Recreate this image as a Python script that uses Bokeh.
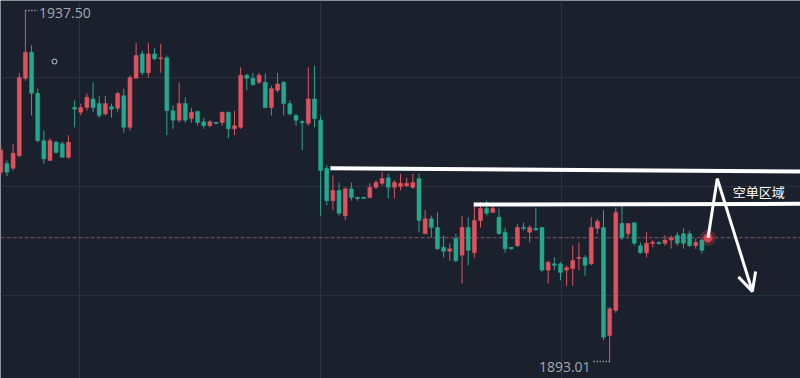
from bokeh.plotting import figure
from bokeh.models import FixedTicker, Arrow, OpenHead, ColumnDataSource
from bokeh.core.properties import value
from bokeh.embed import file_html
from bokeh.resources import INLINE

# ---- OHLC data ----
opens = [1917.0, 1918.1, 1917.5, 1919.1, 1928.9, 1932.2, 1927.0, 1921.0, 1918.5, 1920.8,
         1920.6, 1918.9, 1925.2, 1924.6, 1925.2, 1926.3, 1925.7, 1924.4, 1925.3, 1925.1,
         1926.7, 1922.7, 1928.9, 1932.0, 1929.6, 1932.0, 1931.4, 1931.5, 1924.8, 1923.6,
         1925.7, 1923.8, 1924.7, 1923.4, 1922.9, 1923.3, 1923.3, 1924.6, 1922.5, 1922.7,
         1929.3, 1928.9, 1928.4, 1928.4, 1925.2, 1927.4, 1928.4, 1925.7, 1924.2, 1923.4,
         1923.2, 1926.3, 1923.6, 1917.5, 1913.4, 1914.7, 1911.5, 1914.9, 1913.8, 1913.8,
         1913.8, 1915.1, 1915.6, 1916.3, 1915.1, 1915.2, 1915.3, 1915.1, 1916.2, 1909.2,
         1911.1, 1910.0, 1907.5, 1907.0, 1908.6, 1906.5, 1910.0, 1906.8, 1910.9, 1912.4,
         1911.9, 1911.3, 1909.4, 1907.5, 1907.7, 1910.0, 1909.4, 1909.9, 1910.0, 1904.6,
         1905.4, 1905.4, 1904.6, 1904.8, 1906.1, 1906.2, 1905.4, 1909.9, 1910.0, 1896.3,
         1899.5, 1910.5, 1909.2, 1910.6, 1907.7, 1906.8, 1908.0, 1908.1, 1908.0, 1908.4,
         1909.0, 1909.2, 1909.2, 1907.7, 1908.4, 1908.2]
highs = [1920.4, 1918.5, 1920.6, 1929.6, 1937.5, 1933.1, 1927.6, 1922.3, 1921.3, 1921.0,
         1920.9, 1921.7, 1926.1, 1925.7, 1927.0, 1928.4, 1926.7, 1926.7, 1925.7, 1927.2,
         1927.6, 1929.3, 1933.4, 1932.4, 1933.4, 1932.7, 1933.3, 1931.8, 1925.5, 1928.4,
         1926.5, 1925.2, 1924.8, 1923.9, 1923.6, 1923.4, 1924.7, 1924.7, 1924.8, 1930.3,
         1929.5, 1929.6, 1929.6, 1929.5, 1928.0, 1929.6, 1928.6, 1926.1, 1924.4, 1923.6,
         1930.3, 1930.5, 1924.2, 1917.9, 1916.6, 1915.7, 1915.1, 1915.7, 1913.9, 1913.9,
         1915.6, 1916.0, 1917.0, 1916.8, 1916.0, 1916.8, 1916.3, 1916.8, 1916.8, 1912.2,
         1911.5, 1911.9, 1909.0, 1908.0, 1909.2, 1911.5, 1911.3, 1913.2, 1913.2, 1913.4,
         1912.7, 1912.4, 1910.0, 1907.5, 1910.5, 1910.6, 1910.3, 1912.5, 1910.0, 1905.8,
         1906.2, 1905.6, 1905.2, 1907.7, 1908.1, 1906.5, 1911.3, 1911.1, 1912.2, 1899.9,
         1912.5, 1912.8, 1910.5, 1910.6, 1908.1, 1909.4, 1908.4, 1908.2, 1909.0, 1909.0,
         1909.4, 1909.9, 1909.6, 1908.6, 1908.6, 1909.1]
lows = [1916.6, 1916.5, 1917.2, 1918.9, 1928.6, 1924.2, 1920.8, 1918.1, 1918.5, 1919.4,
        1918.9, 1918.7, 1922.7, 1924.2, 1924.8, 1924.6, 1923.9, 1924.2, 1923.9, 1924.6,
        1922.0, 1922.3, 1928.9, 1929.3, 1929.0, 1931.2, 1929.6, 1921.7, 1922.5, 1923.3,
        1923.3, 1923.3, 1922.9, 1922.5, 1922.7, 1923.1, 1922.9, 1921.3, 1921.7, 1922.5,
        1927.4, 1928.0, 1928.2, 1925.1, 1924.2, 1927.1, 1924.2, 1924.2, 1922.9, 1919.8,
        1922.9, 1922.7, 1911.5, 1912.8, 1912.2, 1911.5, 1910.9, 1913.4, 1913.4, 1913.7,
        1913.7, 1914.9, 1915.3, 1913.7, 1913.7, 1914.7, 1915.1, 1914.9, 1909.4, 1909.2,
        1908.7, 1907.1, 1906.2, 1905.8, 1905.6, 1902.9, 1905.2, 1906.1, 1910.0, 1911.5,
        1911.9, 1909.1, 1906.8, 1907.2, 1907.5, 1909.6, 1908.1, 1909.6, 1904.3, 1902.9,
        1904.6, 1903.3, 1902.6, 1902.6, 1904.6, 1903.9, 1905.2, 1909.2, 1895.7, 1893.01,
        1899.2, 1908.4, 1908.6, 1907.7, 1906.7, 1906.2, 1907.5, 1907.8, 1907.7, 1907.3,
        1907.7, 1907.3, 1907.5, 1907.3, 1906.7, 1908.1]
closes = [1919.8, 1917.0, 1919.4, 1929.0, 1932.2, 1927.0, 1921.0, 1918.7, 1921.0, 1919.5,
          1918.9, 1920.8, 1925.0, 1925.2, 1926.5, 1925.2, 1924.2, 1925.7, 1925.0, 1927.0,
          1922.7, 1929.0, 1931.8, 1929.6, 1932.0, 1931.4, 1931.5, 1924.8, 1923.6, 1925.7,
          1923.6, 1924.6, 1923.3, 1922.9, 1923.4, 1923.2, 1924.6, 1922.5, 1922.9, 1929.3,
          1928.9, 1928.1, 1929.3, 1925.2, 1927.6, 1928.2, 1925.7, 1924.4, 1923.6, 1923.3,
          1926.3, 1923.8, 1917.2, 1913.4, 1914.7, 1911.8, 1914.9, 1913.8, 1913.7, 1913.7,
          1915.1, 1915.7, 1916.2, 1915.1, 1915.7, 1915.6, 1915.6, 1915.7, 1910.9, 1911.1,
          1910.0, 1907.3, 1907.0, 1907.3, 1905.8, 1910.0, 1907.1, 1910.9, 1912.4, 1911.8,
          1912.4, 1909.2, 1907.3, 1907.3, 1910.0, 1909.9, 1910.0, 1909.7, 1904.6, 1905.6,
          1905.2, 1904.3, 1904.9, 1905.8, 1906.2, 1905.2, 1910.0, 1910.8, 1896.1, 1899.7,
          1911.9, 1908.7, 1910.5, 1908.0, 1906.8, 1908.0, 1908.1, 1908.0, 1908.4, 1908.7,
          1908.0, 1908.0, 1907.7, 1908.1, 1907.1, 1908.7]

high_label = "1937.50"
low_label = "1893.01"
zone_label = "空单区域"

# hand-drawn annotation lines (index, price)
zone_top_x = [53.6, 130.0]
zone_top_y = [1917.5, 1917.1]
zone_bot_x = [76.9, 130.0]
zone_bot_y = [1912.9, 1913.0]
arrow_up_x = [115.0, 116.5]
arrow_up_y = [1908.7, 1916.2]
arrow_down_end = (122.2, 1901.9)

# ---- styles ----
BG = "#1b202d"
GRID = "#2a3141"
UP = "#e0525e"
DOWN = "#22a98f"
TXT = "#a3a8b0"

n = len(opens)
xs = list(range(n))
colors = [UP if c >= o else DOWN for o, c in zip(opens, closes)]
tops, bots = [], []
for o, c in zip(opens, closes):
    t, b = max(o, c), min(o, c)
    if t - b < 0.15:
        m = (t + b) / 2
        t, b = m + 0.075, m - 0.075
    tops.append(t)
    bots.append(b)

src = ColumnDataSource(dict(x=xs, o=opens, h=highs, l=lows, c=closes,
                            top=tops, bot=bots, color=colors))

p = figure(width=800, height=378, x_range=(-0.049, 130.03), y_range=(1890.86, 1938.77),
           output_backend="svg", toolbar_location=None, min_border=0)
p.background_fill_color = BG
p.border_fill_color = BG
p.outline_line_color = None
p.xaxis.visible = False
p.yaxis.visible = False
p.xgrid.ticker = FixedTicker(ticks=[12.8, 51.98, 91.17])
p.ygrid.ticker = FixedTicker(ticks=[1901.4, 1915.2, 1929.0])
p.grid.grid_line_color = GRID
p.grid.grid_line_width = 1

# current price dashed line
p.line([-1, 131], [closes[-1], closes[-1]], line_color="#7e5a5f", line_dash="4 2", line_width=1)

# candles
p.segment(x0="x", y0="h", x1="x", y1="l", color="color", line_width=1, source=src)
p.vbar(x="x", width=0.65, top="top", bottom="bot", fill_color="color", line_color="color",
       line_width=0.5, source=src)

# last price glow
p.scatter([xs[-1]], [closes[-1]], size=16, fill_color="#e8414f", fill_alpha=0.25, line_color=None)
p.scatter([xs[-1]], [closes[-1]], size=9, fill_color="#e8414f", fill_alpha=0.9, line_color=None)

# high / low labels
hi_i = highs.index(max(highs))
lo_i = lows.index(min(lows))
p.line([hi_i, hi_i + 2.0], [highs[hi_i]] * 2, line_color="#c8ccd2", line_dash="1 2", line_width=1.5)
p.text([hi_i + 2.2], [highs[hi_i]], text=[high_label], text_color=TXT, text_font=value("Open Sans"),
       text_font_size="14px", text_baseline="top", text_align="left", y_offset=-3)
p.line([lo_i - 2.6, lo_i], [lows[lo_i]] * 2, line_color="#c8ccd2", line_dash="1 2", line_width=1.5)
p.text([lo_i - 3.1], [lows[lo_i]], text=[low_label], text_color=TXT, text_font=value("Open Sans"),
       text_font_size="14px", text_baseline="middle", text_align="right", y_offset=5)

# small hollow marker
p.scatter([8.73], [1931.04], size=5, fill_color=None, line_color="#c8ccd2", line_width=1)

# zone lines
p.line(zone_top_x, zone_top_y, line_color="white", line_width=4)
p.line(zone_bot_x, zone_bot_y, line_color="white", line_width=4)
p.text([119.0], [1914.56], text=[zone_label], text_color="white",
       text_font=value("Noto Sans CJK SC"), text_font_size="13px",
       text_baseline="middle", text_align="left")

# arrow
p.line(arrow_up_x, arrow_up_y, line_color="white", line_width=3)
p.add_layout(Arrow(end=OpenHead(size=18, line_color="white", line_width=3),
                   x_start=arrow_up_x[1], y_start=arrow_up_y[1],
                   x_end=arrow_down_end[0], y_end=arrow_down_end[1],
                   line_color="white", line_width=3))

open("out.html", "w").write(file_html(p, INLINE))
